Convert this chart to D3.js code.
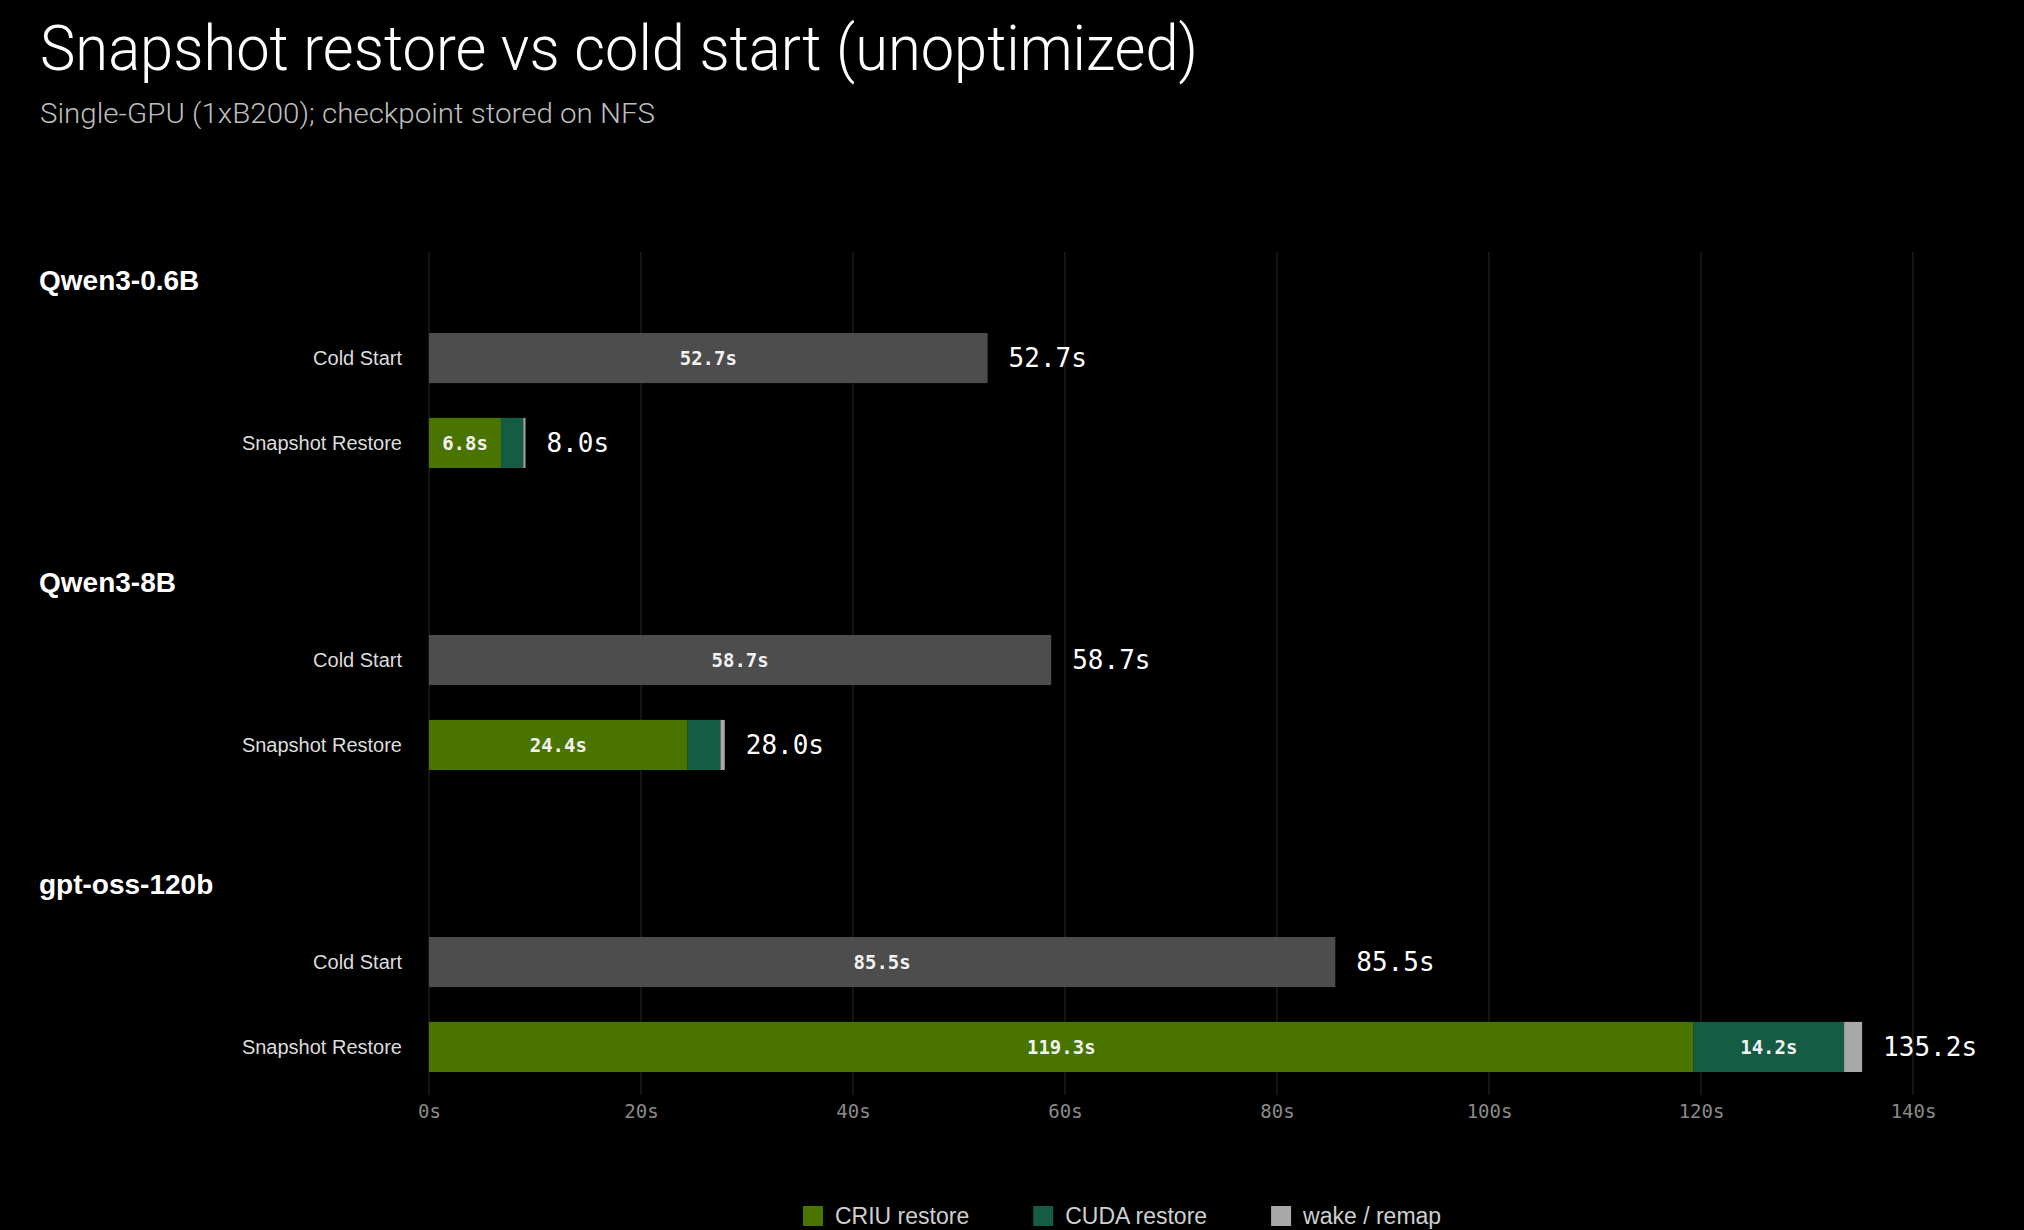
<!DOCTYPE html>
<html lang="en">
<head>
<meta charset="UTF-8">
<title>Snapshot restore vs cold start</title>
<script src="https://d3js.org/d3.v7.min.js"></script>
<style>
  html, body { margin: 0; padding: 0; background: #000; }
  svg { display: block; }
  .sans { font-family: 'Liberation Sans', Arial, sans-serif; }
  .mono { font-family: 'DejaVu Sans Mono', monospace; }
</style>
</head>
<body>
<svg id="chart" width="2024" height="1230"></svg>
<script>
// data
const models = ['Qwen3-0.6B', 'Qwen3-8B', 'gpt-oss-120b'];
const rows = ['Cold Start', 'Snapshot Restore'];
const coldStart = [52.7, 58.7, 85.5];
const criuRestore = [6.8, 24.4, 119.3];
const cudaRestore = [2.1, 3.1, 14.2];
const wakeRemap = [0.2, 0.4, 1.7];
const snapshotTotal = [8.0, 28.0, 135.2];
const coldTotal = [52.7, 58.7, 85.5];
const xTicks = [0, 20, 40, 60, 80, 100, 120, 140];
const segNames = ['CRIU restore', 'CUDA restore', 'wake / remap'];

const W = 2024, H = 1230;
const svg = d3.select('#chart');
svg.append('rect').attr('width', W).attr('height', H).attr('fill', '#000');

const x = d3.scaleLinear().domain([0, 140]).range([429, 1913]);
const gy = d3.scaleBand().domain(models).range([252, 252 + 302 * 3]);
const ry = d3.scaleBand().domain(rows).range([81, 216]).paddingInner(0.41);

const segColor = d3.scaleOrdinal().domain(segNames).range(['#4a7400', '#155c45', '#a8a8a8']);
const coldColor = '#4d4d4d';

// title
const title = svg.append('text')
  .attr('x', 40).attr('y', 70)
  .attr('fill', '#fff')
  .style('font-family', "Roboto, 'Liberation Sans', sans-serif")
  .style('font-weight', 300)
  .style('font-size', '63px')
  .text('Snapshot restore vs cold start (unoptimized)');
title.attr('textLength', 1158).attr('lengthAdjust', 'spacingAndGlyphs');

const sub = svg.append('text')
  .attr('x', 40).attr('y', 123)
  .attr('fill', '#bdbdbd')
  .style('font-family', "Roboto, 'Liberation Sans', sans-serif")
  .style('font-weight', 300)
  .style('font-size', '28px')
  .text('Single-GPU (1xB200); checkpoint stored on NFS');
sub.attr('textLength', 615).attr('lengthAdjust', 'spacingAndGlyphs');

// grid
svg.append('g').selectAll('line').data(xTicks).enter().append('line')
  .attr('x1', d => x(d)).attr('x2', d => x(d))
  .attr('y1', 252).attr('y2', 1095)
  .attr('stroke', '#1c1c1c').attr('stroke-width', 1.5);

// x axis labels
const xAxis = svg.append('g').attr('transform', 'translate(0,1095)')
  .call(d3.axisBottom(x).tickValues(xTicks).tickFormat(d => d + 's').tickSize(0).tickPadding(10));
xAxis.select('.domain').remove();
xAxis.selectAll('text')
  .attr('class', 'mono')
  .attr('fill', '#8a8a8a')
  .style('font-size', '19px');

// build rows of segments
const groups = models.map((m, i) => ({
  model: m,
  bars: [
    { row: 'Cold Start', total: coldTotal[i],
      segs: [{ name: 'cold', x0: 0, x1: coldStart[i], v: coldStart[i], color: coldColor }] },
    { row: 'Snapshot Restore', total: snapshotTotal[i],
      segs: (() => {
        const vals = [criuRestore[i], cudaRestore[i], wakeRemap[i]];
        let acc = 0;
        return vals.map((v, k) => {
          const s = { name: segNames[k], x0: acc, x1: acc + v, v: v, color: segColor(segNames[k]) };
          acc += v;
          return s;
        });
      })() }
  ]
}));

const g = svg.selectAll('.group').data(groups).enter().append('g')
  .attr('class', 'group')
  .attr('transform', d => `translate(0,${gy(d.model)})`);

g.append('text').attr('class', 'sans')
  .attr('x', 39).attr('y', 38)
  .attr('fill', '#fff')
  .style('font-size', '28px').style('font-weight', 'bold')
  .text(d => d.model);

const bar = g.selectAll('.bar').data(d => d.bars).enter().append('g')
  .attr('class', 'bar')
  .attr('transform', d => `translate(0,${ry(d.row)})`);

bar.append('text').attr('class', 'sans')
  .attr('x', 402).attr('y', ry.bandwidth() / 2)
  .attr('dy', '0.35em')
  .attr('text-anchor', 'end')
  .attr('fill', '#dcdcdc')
  .style('font-size', '20px')
  .text(d => d.row);

const seg = bar.selectAll('.seg').data(d => d.segs).enter().append('g').attr('class', 'seg');

seg.append('rect')
  .attr('x', d => x(d.x0))
  .attr('width', d => x(d.x1) - x(d.x0))
  .attr('y', 0)
  .attr('height', ry.bandwidth())
  .attr('fill', d => d.color);

seg.filter(d => x(d.x1) - x(d.x0) > 60).append('text').attr('class', 'mono')
  .attr('x', d => (x(d.x0) + x(d.x1)) / 2)
  .attr('y', ry.bandwidth() / 2)
  .attr('dy', '0.36em')
  .attr('text-anchor', 'middle')
  .attr('fill', '#f2f2f2')
  .style('font-size', '19px')
  .style('font-weight', 'bold')
  .text(d => d.v.toFixed(1) + 's');

bar.append('text').attr('class', 'mono')
  .attr('x', d => x(d3.max(d.segs, s => s.x1)) + 21)
  .attr('y', ry.bandwidth() / 2)
  .attr('dy', '0.36em')
  .attr('fill', '#fff')
  .style('font-size', '26px')
  .text(d => d.total.toFixed(1) + 's');

// legend
const legend = svg.append('g').attr('transform', 'translate(803,1216)');
let lx = 0;
segNames.forEach(name => {
  const it = legend.append('g').attr('transform', `translate(${lx},0)`);
  it.append('rect').attr('x', 0).attr('y', -10).attr('width', 20).attr('height', 20)
    .attr('fill', segColor(name));
  const t = it.append('text').attr('class', 'sans')
    .attr('x', 32).attr('y', 0).attr('dy', '0.36em')
    .attr('fill', '#cfcfcf')
    .style('font-size', '23px')
    .text(name);
  lx += 32 + t.node().getComputedTextLength() + 64;
});
</script>
</body>
</html>
